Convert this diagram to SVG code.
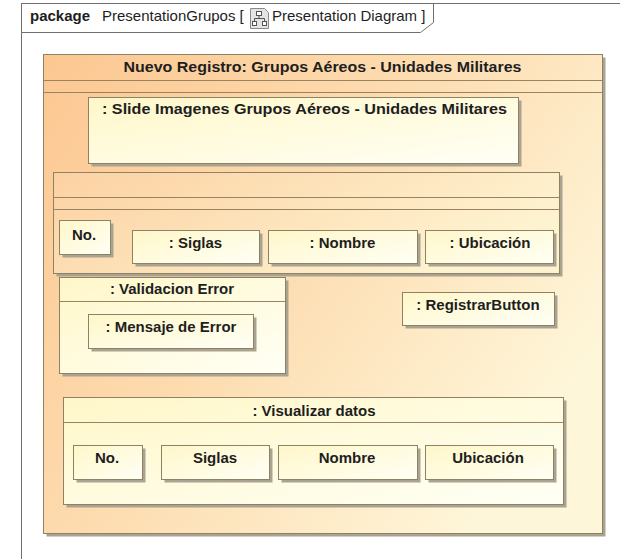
<svg xmlns="http://www.w3.org/2000/svg" width="620" height="559" viewBox="0 0 620 559">
  <defs>
    <!-- peach-to-cream fill for the outer panel -->
    <linearGradient id="peach" x1="0" y1="0" x2="1" y2="0.6">
      <stop offset="0" stop-color="#fcc791"/>
      <stop offset="0.5" stop-color="#fddcb0"/>
      <stop offset="1" stop-color="#fef6d9"/>
    </linearGradient>
    <!-- lighter peach fill for the table panel -->
    <linearGradient id="peachLight" x1="0" y1="0" x2="1" y2="0.4">
      <stop offset="0" stop-color="#fcd1a2"/>
      <stop offset="1" stop-color="#fef3d0"/>
    </linearGradient>
    <!-- pale yellow fill for the part boxes -->
    <linearGradient id="cream" x1="0" y1="0" x2="1" y2="1">
      <stop offset="0" stop-color="#fff7c9"/>
      <stop offset="1" stop-color="#fffff5"/>
    </linearGradient>
  </defs>
  <style>
    .frame{fill:#ffffff;stroke:#6f6f6f;stroke-width:1}
    .shadow{fill:#aaa392}
    .box{stroke:#8d8264;stroke-width:1}
    .sep{stroke:#9a8460;stroke-width:1;fill:none}
    .lbl{font-family:"Liberation Sans",Arial,Helvetica,sans-serif;font-weight:bold;font-size:15px;fill:#1e1e1e;text-anchor:middle}
    .hdr{font-family:"Liberation Sans",Arial,Helvetica,sans-serif;font-size:15px;fill:#1e1e1e}
  </style>

  <!-- package frame -->
  <g id="package-frame">
    <rect class="frame" x="21.5" y="3.5" width="640" height="600"/>
    <path class="frame" d="M21.5 3.5 H433.5 V22.5 L420.5 32.5 H21.5 Z"/>
    <text class="hdr" x="30" y="21" font-weight="bold">package</text>
    <text class="hdr" x="102" y="21">PresentationGrupos [</text>
    <g id="diagram-icon">
      <path d="M250.5 8.5 H264.5 L268.5 12.5 V28.5 H250.5 Z" fill="#e4e4e4" stroke="#8a8a8a"/>
      <rect x="256.5" y="11.5" width="5" height="4" fill="#fff" stroke="#555"/>
      <path d="M259 15.5 V18.5 M254.5 18.5 H264.5 M254.5 18.5 V21.5 M264.5 18.5 V21.5" stroke="#555" fill="none"/>
      <rect x="252.5" y="21.5" width="4" height="4" fill="#fff" stroke="#555"/>
      <rect x="262.5" y="21.5" width="4" height="4" fill="#fff" stroke="#555"/>
    </g>
    <text class="hdr" x="272" y="21">Presentation Diagram ]</text>
  </g>

  <!-- main screen panel -->
  <g id="nuevo-registro">
    <rect class="shadow" x="46.5" y="57.5" width="559" height="479"/>
    <rect class="box" x="43.5" y="54.5" width="559" height="479" fill="url(#peach)"/>
    <line class="sep" x1="43.5" y1="80.5" x2="602.5" y2="80.5"/>
    <line class="sep" x1="43.5" y1="92.5" x2="602.5" y2="92.5"/>
    <text class="lbl" x="322.5" y="72" textLength="398" lengthAdjust="spacingAndGlyphs">Nuevo Registro: Grupos Aéreos - Unidades Militares</text>
  </g>

  <g id="slide-imagenes">
    <rect class="shadow" x="91.5" y="100.5" width="430" height="66"/>
    <rect class="box" x="88.5" y="97.5" width="430" height="66" fill="url(#cream)"/>
    <text class="lbl" x="304.5" y="114" textLength="405" lengthAdjust="spacingAndGlyphs">: Slide Imagenes Grupos Aéreos - Unidades Militares</text>
  </g>

  <!-- entry table -->
  <g id="tabla-registro">
    <rect class="shadow" x="56.5" y="175.5" width="506" height="101"/>
    <rect class="box" x="53.5" y="172.5" width="506" height="101" fill="url(#peachLight)"/>
    <line class="sep" x1="53.5" y1="197.5" x2="559.5" y2="197.5"/>
    <line class="sep" x1="53.5" y1="209.5" x2="559.5" y2="209.5"/>
  </g>

  <g id="tabla-no">
    <rect class="shadow" x="62.5" y="223.5" width="51" height="34"/>
    <rect class="box" x="59.5" y="220.5" width="51" height="34" fill="url(#cream)"/>
    <text class="lbl" x="84" y="240">No.</text>
  </g>
  <g id="tabla-siglas">
    <rect class="shadow" x="135.5" y="233.5" width="127" height="33"/>
    <rect class="box" x="132.5" y="230.5" width="127" height="33" fill="url(#cream)"/>
    <text class="lbl" x="195.5" y="248">: Siglas</text>
  </g>
  <g id="tabla-nombre">
    <rect class="shadow" x="271.5" y="233.5" width="149" height="33"/>
    <rect class="box" x="268.5" y="230.5" width="149" height="33" fill="url(#cream)"/>
    <text class="lbl" x="342.5" y="248">: Nombre</text>
  </g>
  <g id="tabla-ubicacion">
    <rect class="shadow" x="428.5" y="233.5" width="128" height="33"/>
    <rect class="box" x="425.5" y="230.5" width="128" height="33" fill="url(#cream)"/>
    <text class="lbl" x="490" y="248">: Ubicación</text>
  </g>

  <!-- validation area -->
  <g id="validacion-error">
    <rect class="shadow" x="62.5" y="280.5" width="226" height="96"/>
    <rect class="box" x="59.5" y="277.5" width="226" height="96" fill="url(#cream)"/>
    <line class="sep" x1="59.5" y1="301.5" x2="285.5" y2="301.5"/>
    <text class="lbl" x="172" y="294">: Validacion Error</text>
  </g>
  <g id="mensaje-error">
    <rect class="shadow" x="91.5" y="317.5" width="165" height="34"/>
    <rect class="box" x="88.5" y="314.5" width="165" height="34" fill="url(#cream)"/>
    <text class="lbl" x="171" y="332">: Mensaje de Error</text>
  </g>

  <g id="registrar-button">
    <rect class="shadow" x="405.5" y="295.5" width="152" height="33"/>
    <rect class="box" x="402.5" y="292.5" width="152" height="33" fill="url(#cream)"/>
    <text class="lbl" x="478" y="310">: RegistrarButton</text>
  </g>

  <!-- results table -->
  <g id="visualizar-datos">
    <rect class="shadow" x="66.5" y="400.5" width="500" height="107"/>
    <rect class="box" x="63.5" y="397.5" width="500" height="107" fill="url(#cream)"/>
    <line class="sep" x1="63.5" y1="422.5" x2="563.5" y2="422.5"/>
    <text class="lbl" x="314" y="416">: Visualizar datos</text>
  </g>
  <g id="visualizar-no">
    <rect class="shadow" x="76.5" y="448.5" width="69" height="34"/>
    <rect class="box" x="73.5" y="445.5" width="69" height="34" fill="url(#cream)"/>
    <text class="lbl" x="107" y="463">No.</text>
  </g>
  <g id="visualizar-siglas">
    <rect class="shadow" x="164.5" y="448.5" width="108" height="34"/>
    <rect class="box" x="161.5" y="445.5" width="108" height="34" fill="url(#cream)"/>
    <text class="lbl" x="215" y="463">Siglas</text>
  </g>
  <g id="visualizar-nombre">
    <rect class="shadow" x="281.5" y="448.5" width="139" height="34"/>
    <rect class="box" x="278.5" y="445.5" width="139" height="34" fill="url(#cream)"/>
    <text class="lbl" x="347" y="463">Nombre</text>
  </g>
  <g id="visualizar-ubicacion">
    <rect class="shadow" x="428.5" y="448.5" width="128" height="34"/>
    <rect class="box" x="425.5" y="445.5" width="128" height="34" fill="url(#cream)"/>
    <text class="lbl" x="488" y="463">Ubicación</text>
  </g>
</svg>
